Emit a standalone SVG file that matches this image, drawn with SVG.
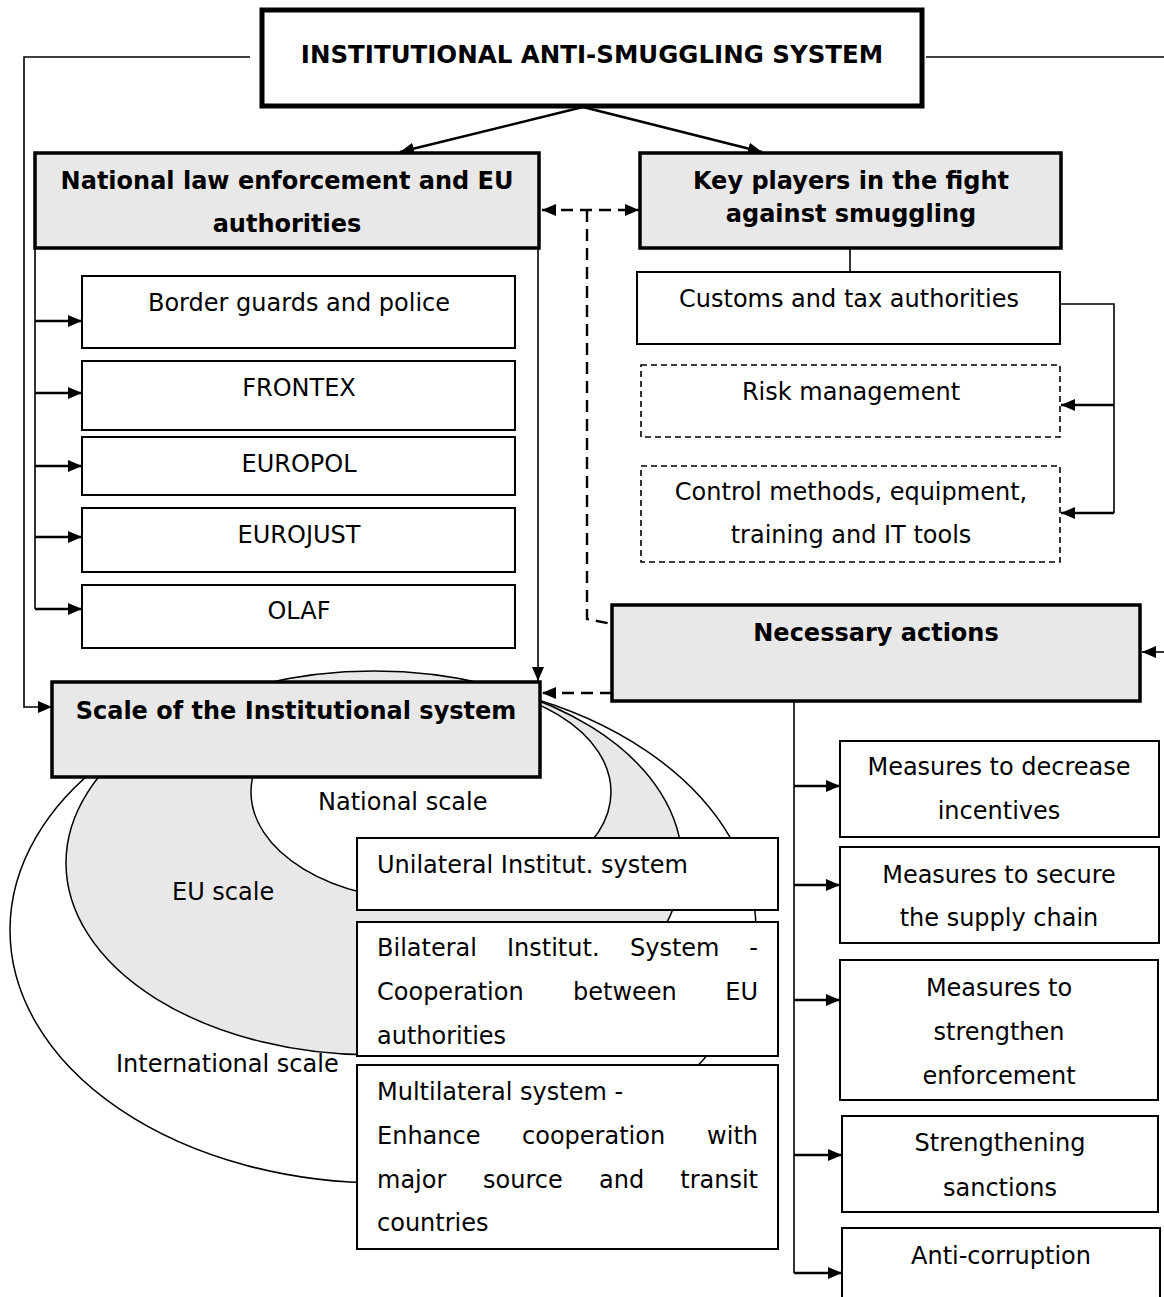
<svg xmlns="http://www.w3.org/2000/svg" width="1164" height="1297" viewBox="0 0 1164 1297">
<style>
.t{font-family:"DejaVu Sans",Verdana,sans-serif;font-size:24px;fill:#000}
.b{font-weight:bold}
.m{text-anchor:middle}
.e{text-anchor:end}
.box{fill:#fff;stroke:#000;stroke-width:2}
.hdr{fill:#e8e8e8;stroke:#000;stroke-width:3.5}
.dbox{fill:#fff;stroke:#000;stroke-width:1.6;stroke-dasharray:6 4}
.ln{fill:none;stroke:#000;stroke-width:1.6}
.ln2{fill:none;stroke:#000;stroke-width:2.4}
.dl{fill:none;stroke:#000;stroke-width:2.4;stroke-dasharray:12 7}
.ell{stroke:#000;stroke-width:1.5}
</style>
<defs>
<marker id="ah" viewBox="0 0 14 12" refX="14" refY="6" markerWidth="14" markerHeight="12" markerUnits="userSpaceOnUse" orient="auto-start-reverse"><path d="M0,0 L14,6 L0,12z" fill="#000"/></marker>
</defs>
<rect width="1164" height="1297" fill="#fff"/>

<g id="scales">
<ellipse class="ell" cx="383" cy="930" rx="373" ry="253" fill="#fff"/>
<ellipse class="ell" cx="374" cy="863" rx="308" ry="192" fill="#e8e8e8"/>
<ellipse class="ell" cx="431" cy="792" rx="180" ry="109" fill="#fff"/>
<text class="t" x="318" y="810">National scale</text>
<text class="t" x="172" y="900">EU scale</text>
<text class="t" x="116" y="1072">International scale</text>
</g>

<g id="connectors">
<path class="ln" d="M250,57 H24 V707 H52" marker-end="url(#ah)"/>
<path class="ln" d="M926,57 H1164"/>
<path class="ln" d="M1164,652 H1142" marker-end="url(#ah)"/>
<path class="ln2" d="M583,107 L400,152" marker-end="url(#ah)"/>
<path class="ln2" d="M583,107 L762,152" marker-end="url(#ah)"/>
<path class="dl" d="M542,210 H639" marker-start="url(#ah)" marker-end="url(#ah)"/>
<path class="dl" d="M587,210 V619 L612,624"/>
<path class="dl" d="M612,693 H542" marker-end="url(#ah)"/>
<path class="ln" d="M35,248 V609"/>
<path class="ln2" d="M35,321 H82" marker-end="url(#ah)"/>
<path class="ln2" d="M35,393 H82" marker-end="url(#ah)"/>
<path class="ln2" d="M35,466 H82" marker-end="url(#ah)"/>
<path class="ln2" d="M35,537 H82" marker-end="url(#ah)"/>
<path class="ln2" d="M35,609 H82" marker-end="url(#ah)"/>
<path class="ln" d="M538,248 V681" marker-end="url(#ah)"/>
<path class="ln" d="M850,248 V272"/>
<path class="ln" d="M1060,304 H1114 V513"/>
<path class="ln2" d="M1114,405 H1061" marker-end="url(#ah)"/>
<path class="ln2" d="M1114,513 H1061" marker-end="url(#ah)"/>
<path class="ln" d="M794,700 V1273"/>
<path class="ln2" d="M794,786 H840" marker-end="url(#ah)"/>
<path class="ln2" d="M794,885 H840" marker-end="url(#ah)"/>
<path class="ln2" d="M794,1000 H840" marker-end="url(#ah)"/>
<path class="ln2" d="M794,1155 H842" marker-end="url(#ah)"/>
<path class="ln2" d="M794,1273 H842" marker-end="url(#ah)"/>
</g>

<g id="title">
<rect x="262" y="10" width="660" height="96" fill="#fff" stroke="#000" stroke-width="5"/>
<text class="t b m" x="592" y="63" style="font-size:24.5px">INSTITUTIONAL ANTI-SMUGGLING SYSTEM</text>
</g>

<g id="national">
<rect class="hdr" x="35" y="153" width="504" height="95"/>
<text class="t b m" x="287" y="189">National law enforcement and EU</text>
<text class="t b m" x="287" y="232">authorities</text>
</g>

<g id="keyplayers">
<rect class="hdr" x="640" y="153" width="421" height="95"/>
<text class="t b m" x="851" y="189">Key players in the fight</text>
<text class="t b m" x="851" y="222">against smuggling</text>
</g>

<g id="border"><rect class="box" x="82" y="276" width="433" height="72"/><text class="t m" x="299" y="311">Border guards and police</text></g>
<g id="frontex"><rect class="box" x="82" y="361" width="433" height="69"/><text class="t m" x="299" y="396">FRONTEX</text></g>
<g id="europol"><rect class="box" x="82" y="437" width="433" height="58"/><text class="t m" x="299" y="472">EUROPOL</text></g>
<g id="eurojust"><rect class="box" x="82" y="508" width="433" height="64"/><text class="t m" x="299" y="543">EUROJUST</text></g>
<g id="olaf"><rect class="box" x="82" y="585" width="433" height="63"/><text class="t m" x="299" y="619">OLAF</text></g>

<g id="customs"><rect class="box" x="637" y="272" width="423" height="72"/><text class="t m" x="849" y="307">Customs and tax authorities</text></g>
<g id="risk"><rect class="dbox" x="641" y="365" width="419" height="72"/><text class="t m" x="851" y="400">Risk management</text></g>
<g id="control"><rect class="dbox" x="641" y="466" width="419" height="96"/>
<text class="t m" x="851" y="500">Control methods, equipment,</text>
<text class="t m" x="851" y="543">training and IT tools</text></g>

<g id="necessary">
<rect class="hdr" x="612" y="605" width="528" height="96"/>
<text class="t b m" x="876" y="641">Necessary actions</text>
</g>

<g id="scale">
<rect class="hdr" x="52" y="682" width="488" height="95"/>
<text class="t b m" x="296" y="719">Scale of the Institutional system</text>
</g>

<g id="unilateral"><rect class="box" x="357" y="838" width="421" height="72"/><text class="t" x="377" y="873">Unilateral Institut. system</text></g>
<g id="bilateral"><rect class="box" x="357" y="922" width="421" height="134"/>
<text class="t" y="956"><tspan x="377">Bilateral</tspan><tspan x="507">Institut.</tspan><tspan x="630">System</tspan></text>
<text class="t e" x="758" y="956">-</text>
<text class="t" y="1000"><tspan x="377">Cooperation</tspan><tspan x="573">between</tspan></text>
<text class="t e" x="758" y="1000">EU</text>
<text class="t" x="377" y="1044">authorities</text></g>
<g id="multilateral"><rect class="box" x="357" y="1065" width="421" height="184"/>
<text class="t" x="377" y="1100">Multilateral system -</text>
<text class="t" y="1144"><tspan x="377">Enhance</tspan><tspan x="522">cooperation</tspan></text>
<text class="t e" x="758" y="1144">with</text>
<text class="t" y="1188"><tspan x="377">major</tspan><tspan x="483">source</tspan><tspan x="599">and</tspan></text>
<text class="t e" x="758" y="1188">transit</text>
<text class="t" x="377" y="1231">countries</text></g>

<g id="m1"><rect class="box" x="840" y="741" width="319" height="96"/><text class="t m" x="999" y="775">Measures to decrease</text><text class="t m" x="999" y="819">incentives</text></g>
<g id="m2"><rect class="box" x="840" y="847" width="319" height="96"/><text class="t m" x="999" y="883">Measures to secure</text><text class="t m" x="999" y="926">the supply chain</text></g>
<g id="m3"><rect class="box" x="840" y="960" width="318" height="140"/><text class="t m" x="999" y="996">Measures to</text><text class="t m" x="999" y="1040">strengthen</text><text class="t m" x="999" y="1084">enforcement</text></g>
<g id="m4"><rect class="box" x="842" y="1116" width="316" height="96"/><text class="t m" x="1000" y="1151">Strengthening</text><text class="t m" x="1000" y="1196">sanctions</text></g>
<g id="m5"><rect class="box" x="842" y="1228" width="318" height="90"/><text class="t m" x="1001" y="1264">Anti-corruption</text></g>
</svg>
